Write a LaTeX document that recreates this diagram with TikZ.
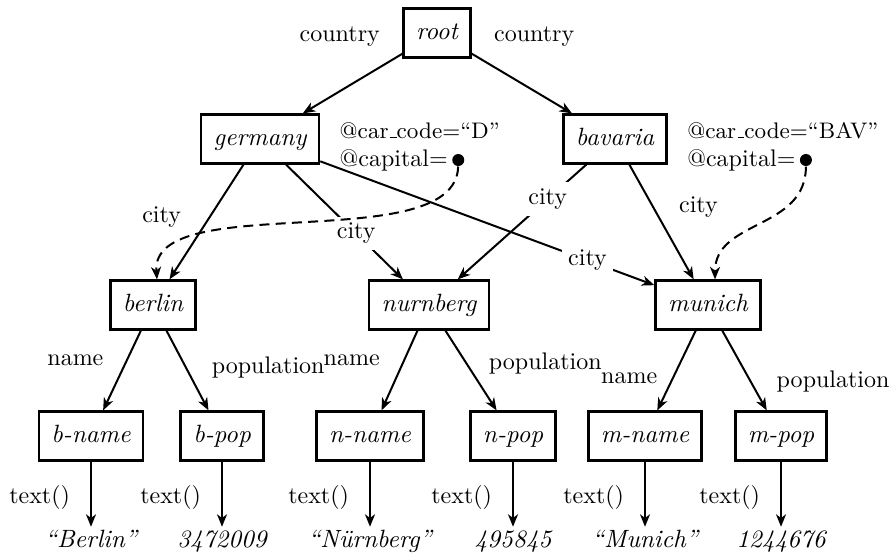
\documentclass[tikz,border=0pt]{standalone}
\usetikzlibrary{arrows.meta}
\newcommand{\usc}{\kern.06em\vbox{\hrule width.3em}}
\begin{document}
\begin{tikzpicture}[
    x=0.4pt, y=-0.4pt,
    bx/.style={draw,line width=1pt,rectangle,minimum height=19.5pt,inner xsep=5pt,text height=7pt,text depth=2pt,font=\itshape},
    val/.style={inner sep=1pt,text height=7pt,text depth=2pt,font=\itshape},
    lab/.style={inner sep=1pt,font=\fontsize{9.6pt}{11.5pt}\selectfont},
    cut/.style={fill=white,inner sep=2.5pt,font=\fontsize{9.6pt}{11.5pt}\selectfont},
    attr/.style={inner sep=1pt,anchor=west,text height=7pt,text depth=2pt,font=\fontsize{9.6pt}{11.5pt}\selectfont},
    dot/.style={circle,fill,inner sep=1.7pt},
    >={Stealth[length=5pt,width=4pt,inset=1.5pt]},
]

    \useasboundingbox (0,0) rectangle (891,556);

    \node[bx] (root) at (437,33) {root};

    \tikzset{node distance=42.4pt}
    \node[bx,below of=root,xshift=-70.8pt] (germany) {germany};
    \node[bx,below of=root,xshift=71.2pt] (bavaria) {bavaria};

    \node[attr,font=\fontsize{9pt}{11pt}\selectfont] (gcode) at ([xshift=6.6pt,yshift=2.8pt]germany.east) {@car\usc code=“D”};
    \node[attr] (gcap) at ([yshift=-11.2pt]gcode.west) {@capital=};
    \node[dot] (gdot) at ([xshift=3pt]gcap.east) {};
    \node[attr,font=\fontsize{9pt}{11pt}\selectfont] (bcode) at ([xshift=6.6pt,yshift=2.8pt]bavaria.east) {@car\usc code=“BAV”};
    \node[attr] (bcap) at ([yshift=-11.2pt]bcode.west) {@capital=};
    \node[dot] (bdot) at ([xshift=3pt]bcap.east) {};

    \tikzset{node distance=66.4pt}
    \node[bx,below of=germany,xshift=-42.8pt] (berlin) {berlin};
    \node[bx,below of=germany,xshift=67.6pt] (nurnberg) {nurnberg};
    \node[bx,below of=bavaria,xshift=37.2pt] (munich) {munich};

    \tikzset{node distance=52.4pt}
    \node[bx,below of=berlin,xshift=-24.8pt] (bname) {b-name};
    \node[bx,below of=berlin,xshift=27.6pt] (bpop) {b-pop};
    \node[bx,below of=nurnberg,xshift=-23.6pt] (nname) {n-name};
    \node[bx,below of=nurnberg,xshift=33.6pt] (npop) {n-pop};
    \node[bx,below of=munich,xshift=-25.2pt] (mname) {m-name};
    \node[bx,below of=munich,xshift=29.2pt] (mpop) {m-pop};

    \tikzset{node distance=42pt}
    \node[val,below of=bname] (bval) {“Berlin”};
    \node[val,below of=bpop] (bnum) {3472009};
    \node[val,below of=nname] (nval) {“Nürnberg”};
    \node[val,below of=npop] (nnum) {495845};
    \node[val,below of=mname] (mval) {“Munich”};
    \node[val,below of=mpop] (mnum) {1244676};

    \draw[->,thick]
        (root) edge node[lab,at start,left=7.6pt,yshift=7pt] {country} (germany)
        (root) edge node[lab,at start,right=7.6pt,yshift=7pt] {country} (bavaria)
        (germany) edge node[lab,pos=0.46,left=10pt] {city} (berlin)
        (germany) edge node[cut,pos=0.6] {city} (nurnberg)
        (germany) edge node[cut,pos=0.8] {city} (munich)
        (bavaria) edge node[cut,pos=0.3] {city} (nurnberg)
        (bavaria) edge node[lab,pos=0.37,right=9pt] {city} (munich)
        (berlin) edge node[lab,pos=0.37,left=8pt] {name} (bname)
        (berlin) edge node[lab,pos=0.46,right=9pt] {population} (bpop)
        (nurnberg) edge node[lab,pos=0.37,left=8.4pt] {name} (nname)
        (nurnberg) edge node[lab,pos=0.41,right=7.6pt] {population} (npop)
        (munich) edge node[lab,pos=0.6,left=4.8pt] {name} (mname)
        (munich) edge node[lab,pos=0.64,right=9pt] {population} (mpop)
        (bname) edge node[lab,pos=0.55,left=7pt] {text()} (bval)
        (bpop) edge node[lab,pos=0.55,left=7pt] {text()} (bnum)
        (nname) edge node[lab,pos=0.55,left=7pt] {text()} (nval)
        (npop) edge node[lab,pos=0.55,left=7pt] {text()} (nnum)
        (mname) edge node[lab,pos=0.55,left=7pt] {text()} (mval)
        (mpop) edge node[lab,pos=0.55,left=7pt] {text()} (mnum)
    ;

    % capital references
    \draw[->,thick,dash pattern=on 4pt off 2.5pt]
        (gdot) .. controls +(-2,98) and +(-7,-91) .. ([xshift=1.6pt]berlin.north);
    \draw[->,thick,dash pattern=on 4pt off 2.5pt]
        (bdot) .. controls +(0,70) and +(0,-60) .. ([xshift=2.8pt]munich.north);

\end{tikzpicture}
\end{document}
